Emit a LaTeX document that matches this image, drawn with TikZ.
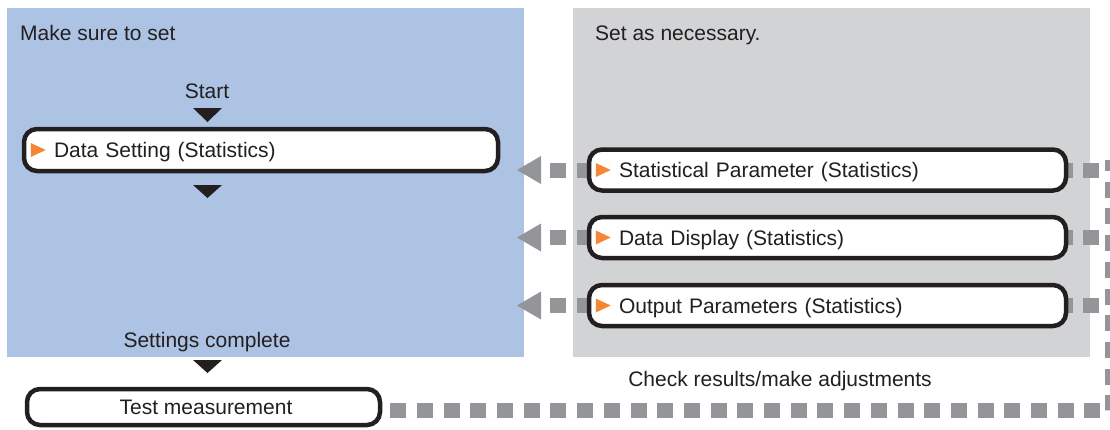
\documentclass[tikz,border=0pt]{standalone}
\usepackage{fontspec}
\setmainfont{Liberation Sans}
\usetikzlibrary{arrows.meta}
\pgfdeclarelayer{bg}
\pgfdeclarelayer{mid}
\pgfsetlayers{bg,mid,main}
\definecolor{panelblue}{HTML}{ADC3E4}
\definecolor{panelgray}{HTML}{D1D3D4}
\definecolor{dashgray}{HTML}{939598}
\definecolor{tipor}{HTML}{F58634}
\definecolor{ink}{HTML}{231F20}
\begin{document}
\begin{tikzpicture}[x=1pt,y=-1pt,
  font=\fontsize{21}{25}\selectfont, text=ink,
  stepbox/.style={draw=ink, line width=4.5pt, rounded corners=13pt, fill=white,
    inner xsep=30pt, inner ysep=0pt, text width=#1, align=left, minimum height=41pt,
    text height=15pt, text depth=0pt},
  testbox/.style={draw=ink, line width=4.5pt, rounded corners=13pt, fill=white,
    inner sep=0pt, minimum width=353pt, minimum height=36pt, text height=15pt, text depth=0pt},
  plain/.style={inner sep=0pt, text height=15pt, text depth=0pt},
  dashc/.style={draw=dashgray, line width=15pt, dash pattern=on 16pt off 10.7pt},
  backarrow/.style={{Triangle[width=28pt,length=24pt,line width=0pt 0]}-},
  orangetri/.style={fill=tipor},
  downtri/.style={fill=ink}]
\useasboundingbox (0,0) rectangle (1110,429);

% panels
\begin{pgfonlayer}{bg}
  \fill[panelblue] (7,8) rectangle (524,357);
  \fill[panelgray] (573,8) rectangle (1090,357);
\end{pgfonlayer}

% texts
\node[plain, anchor=west] (t1) at (20,33) {Make sure to set};
\node[plain, anchor=west] (t2) at (595,33) {Set as necessary.};
\node[plain] (start) at (207,91) {Start};
\node[plain] (done) at (207,340) {Settings complete};
\node[plain] (check) at (780,379) {Check results/make adjustments};

% boxes
\node[stepbox=414pt, minimum height=42pt] (ds) at (261,150) {Data Setting (Statistics)};
\node[stepbox=417pt] (stat) at (827.5,170) {Statistical Parameter (Statistics)};
\node[stepbox=417pt] (disp) at (827.5,237.5) {Data Display (Statistics)};
\node[stepbox=417pt] (outp) at (827.5,305.5) {Output Parameters (Statistics)};
\node[testbox] (test) at (203.5,407) {\hspace*{5pt}Test measurement};

% orange markers
\foreach \n in {ds,stat,disp,outp}
  \fill[orangetri] ([xshift=9pt]\n.west) ++(0,-7) -- ++(15,7) -- ++(-15,7) -- cycle;

% down triangles
\fill[downtri] (193,108) -- (222,108) -- (207.5,122) -- cycle;
\fill[downtri] (193,185) -- (222,185) -- (207.5,198) -- cycle;
\fill[downtri] (193,360) -- (222,360) -- (207.5,373) -- cycle;

% coordinates
\coordinate (tipx) at (517,0);
\coordinate (vx) at (1110,0);
\coordinate (rb) at (1112,410.5);
\coordinate (rt) at (1112,160);

% connectors
\begin{pgfonlayer}{mid}
  \foreach \n in {stat,disp,outp}{
    \draw[dashc, dash phase=17.7pt, backarrow] (\n -| tipx) -- (\n.center);
    \draw[dashc, dash phase=16pt] (\n -| vx) -- (\n.center);
  }
  \draw[dashc, dash phase=18.7pt] (test.east |- rb) -- (rb) -- (rt);
\end{pgfonlayer}
\end{tikzpicture}
\end{document}
